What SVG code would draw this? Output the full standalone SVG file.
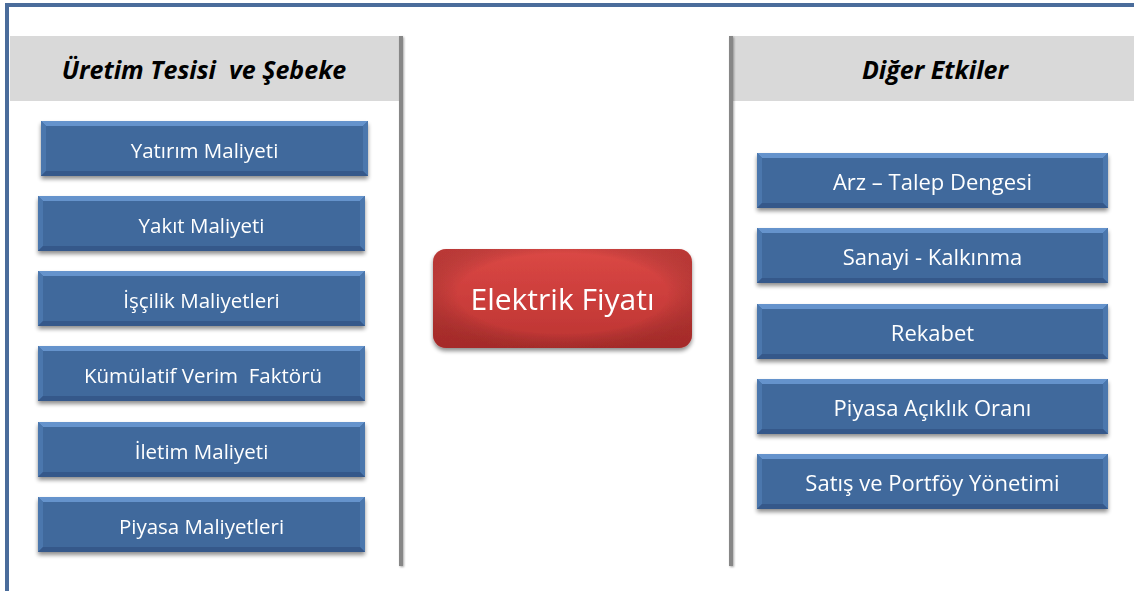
<svg xmlns="http://www.w3.org/2000/svg" width="1134" height="591" viewBox="0 0 1134 591">
  <defs>
    <filter id="shadow" x="-10%" y="-20%" width="120%" height="150%">
      <feGaussianBlur in="SourceAlpha" stdDeviation="2"/>
      <feOffset dx="0" dy="3" result="b"/>
      <feComponentTransfer><feFuncA type="linear" slope="0.45"/></feComponentTransfer>
      <feMerge><feMergeNode/><feMergeNode in="SourceGraphic"/></feMerge>
    </filter>
    <filter id="lineShadow" x="-200%" y="-5%" width="500%" height="110%">
      <feGaussianBlur in="SourceAlpha" stdDeviation="1"/>
      <feOffset dx="1" dy="1"/>
      <feComponentTransfer><feFuncA type="linear" slope="0.35"/></feComponentTransfer>
      <feMerge><feMergeNode/><feMergeNode in="SourceGraphic"/></feMerge>
    </filter>
    <linearGradient id="redFill" x1="0" y1="0" x2="0" y2="1">
      <stop offset="0" stop-color="#DB4845"/>
      <stop offset="1" stop-color="#BC3432"/>
    </linearGradient>
    <radialGradient id="redGlow" cx="0.5" cy="0.45" r="0.62">
      <stop offset="0.65" stop-color="#000" stop-opacity="0"/>
      <stop offset="1" stop-color="#6E1514" stop-opacity="0.3"/>
    </radialGradient>
    <style>
      .frame { fill: none; stroke: #4A6C9B; stroke-width: 4; }
      .header { fill: #D9D9D9; }
      .divider { fill: #878787; }
      .htext { font-family: "Open Sans", "Liberation Sans", sans-serif; font-weight: bold; font-style: italic; font-size: 25px; fill: #000; text-anchor: middle; white-space: pre; }
      .face { fill: #3F699C; }
      .bevT { fill: #6593CC; }
      .bevS { fill: #4B77AD; }
      .bevB { fill: #34588A; }
      .label { font-family: "Open Sans", "Liberation Sans", sans-serif; font-size: 20.5px; fill: #FFFFFF; text-anchor: middle; white-space: pre; }
      .labelR { font-family: "Open Sans", "Liberation Sans", sans-serif; font-size: 22px; fill: #FFFFFF; text-anchor: middle; white-space: pre; }
      .big { font-family: "Open Sans", "Liberation Sans", sans-serif; font-size: 30px; fill: #FFFFFF; text-anchor: middle; }
    </style>
    <!-- bevelled blue box, 327 x 55 -->
    <g id="box">
      <rect x="0" y="0" width="327" height="55" class="face"/>
      <polygon points="0,0 327,0 322,5 5,5" class="bevT"/>
      <polygon points="0,0 5,5 5,50 0,55" class="bevS"/>
      <polygon points="327,0 322,5 322,50 327,55" class="bevS"/>
      <polygon points="0,55 5,50 322,50 327,55" class="bevB"/>
    </g>
    <!-- wider box for the right column, 351 x 55 -->
    <g id="boxW">
      <rect x="0" y="0" width="351" height="55" class="face"/>
      <polygon points="0,0 351,0 346,5 5,5" class="bevT"/>
      <polygon points="0,0 5,5 5,50 0,55" class="bevS"/>
      <polygon points="351,0 346,5 346,50 351,55" class="bevS"/>
      <polygon points="0,55 5,50 346,50 351,55" class="bevB"/>
    </g>
  </defs>

  <rect width="1134" height="591" fill="#FFFFFF"/>

  <!-- outer frame -->
  <rect x="7" y="5" width="1140" height="600" class="frame"/>

  <!-- column headers and dividers -->
  <g id="left-column">
    <rect x="10" y="36" width="389" height="65" class="header"/>
    <rect x="399" y="36" width="4" height="530" class="divider" filter="url(#lineShadow)"/>
    <text x="204" y="79" class="htext">Üretim Tesisi  ve Şebeke</text>
  </g>
  <g id="right-column">
    <rect x="733" y="36" width="401" height="65" class="header"/>
    <rect x="729" y="36" width="4" height="530" class="divider" filter="url(#lineShadow)"/>
    <text x="935" y="79" class="htext">Diğer Etkiler</text>
  </g>

  <!-- cost factors -->
  <g id="yatirim" filter="url(#shadow)">
    <use href="#box" x="41" y="121"/>
    <text x="204.5" y="158" class="label">Yatırım Maliyeti</text>
  </g>
  <g id="yakit" filter="url(#shadow)">
    <use href="#box" x="38" y="196"/>
    <text x="201.5" y="233" class="label">Yakıt Maliyeti</text>
  </g>
  <g id="iscilik" filter="url(#shadow)">
    <use href="#box" x="38" y="271"/>
    <text x="201.5" y="308" class="label">İşçilik Maliyetleri</text>
  </g>
  <g id="kumulatif" filter="url(#shadow)">
    <use href="#box" x="38" y="346"/>
    <text x="203" y="383" class="label">Kümülatif Verim  Faktörü</text>
  </g>
  <g id="iletim" filter="url(#shadow)">
    <use href="#box" x="38" y="422"/>
    <text x="201.5" y="459" class="label">İletim Maliyeti</text>
  </g>
  <g id="piyasa-maliyet" filter="url(#shadow)">
    <use href="#box" x="38" y="497"/>
    <text x="201.5" y="534" class="label">Piyasa Maliyetleri</text>
  </g>

  <!-- central price node -->
  <g id="elektrik-fiyati" filter="url(#shadow)">
    <rect x="433" y="249" width="259" height="99" rx="13" fill="url(#redFill)"/>
    <rect x="433" y="249" width="259" height="99" rx="13" fill="url(#redGlow)"/>
    <text x="562.5" y="310" class="big">Elektrik Fiyatı</text>
  </g>

  <!-- other influences -->
  <g id="arz-talep" filter="url(#shadow)">
    <use href="#boxW" x="757" y="153"/>
    <text x="932.5" y="190" class="labelR">Arz – Talep Dengesi</text>
  </g>
  <g id="sanayi" filter="url(#shadow)">
    <use href="#boxW" x="757" y="228"/>
    <text x="932.5" y="265" class="labelR">Sanayi - Kalkınma</text>
  </g>
  <g id="rekabet" filter="url(#shadow)">
    <use href="#boxW" x="757" y="304"/>
    <text x="932.5" y="341" class="labelR">Rekabet</text>
  </g>
  <g id="piyasa-aciklik" filter="url(#shadow)">
    <use href="#boxW" x="757" y="379"/>
    <text x="932.5" y="416" class="labelR">Piyasa Açıklık Oranı</text>
  </g>
  <g id="satis" filter="url(#shadow)">
    <use href="#boxW" x="757" y="454"/>
    <text x="932.5" y="491" class="labelR">Satış ve Portföy Yönetimi</text>
  </g>

  <g id="connectors"/>
</svg>
